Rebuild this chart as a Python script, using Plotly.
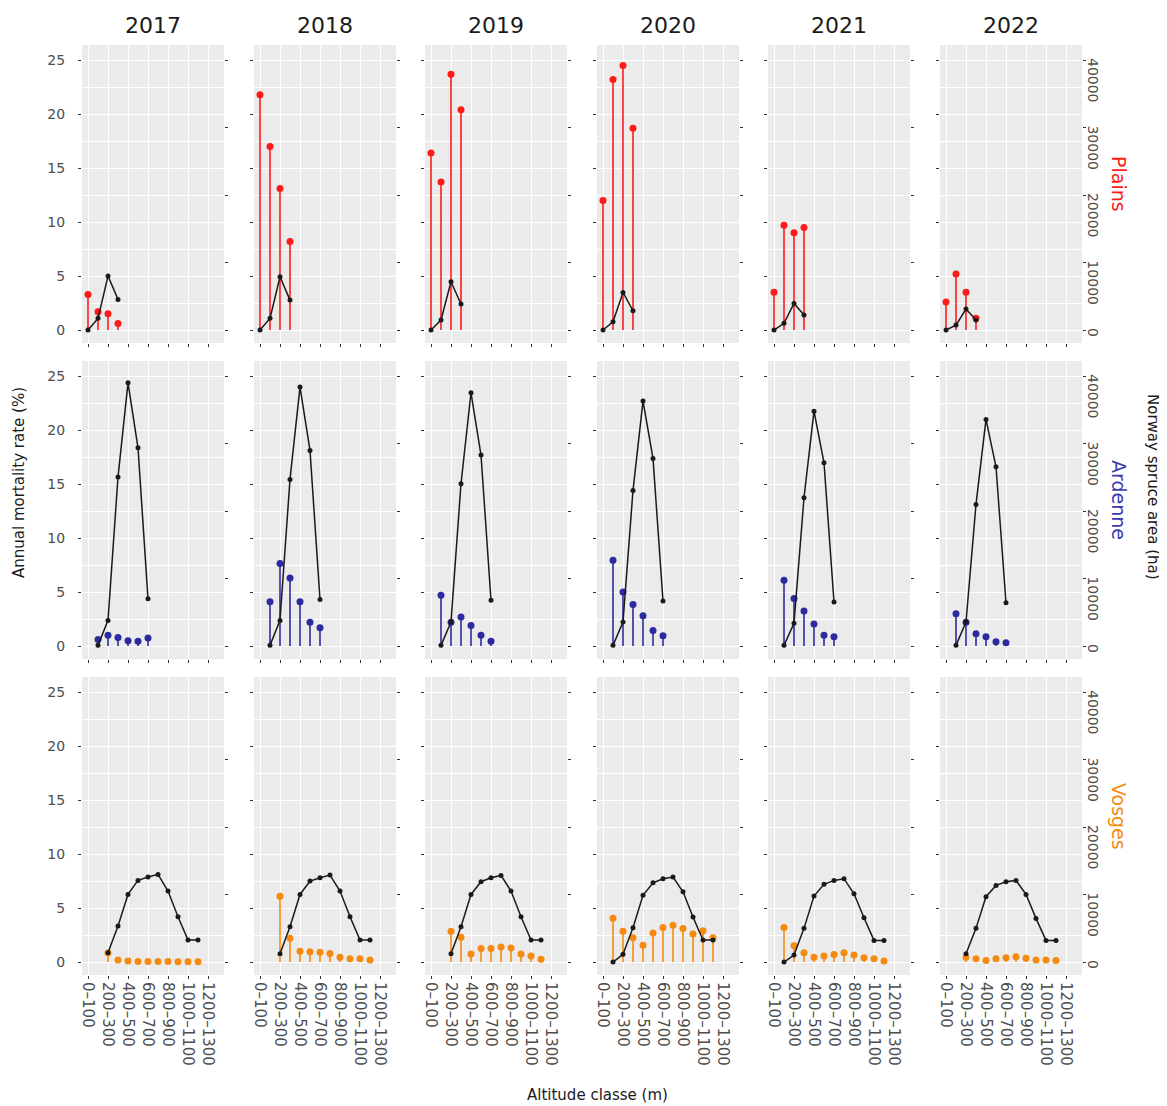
import plotly.graph_objects as go

# ---------------- data ----------------
years = ["2017", "2018", "2019", "2020", "2021", "2022"]
altitude_classes = ["0–100", "100–200", "200–300", "300–400", "400–500", "500–600",
                    "600–700", "700–800", "800–900", "900–1000", "1000–1100",
                    "1100–1200", "1200–1300", "1300–1400"]
tick_classes = altitude_classes[0:13:2]

regions = ["Plains", "Ardenne", "Vosges"]
region_colors = ["#FF1A1A", "#2B2B9F", "#F58A0F"]
region_text_colors = ["#FF1A1A", "#3A3AB0", "#F58A0F"]

plains_classes = altitude_classes[0:4]
plains_mortality = [
    [3.3, 1.7, 1.5, 0.6],
    [21.8, 17.0, 13.1, 8.2],
    [16.4, 13.7, 23.7, 20.4],
    [12.0, 23.2, 24.5, 18.7],
    [3.5, 9.7, 9.0, 9.5],
    [2.6, 5.2, 3.5, 1.1],
]
plains_area = [
    [0, 1730, 8000, 4540],
    [0, 1730, 7900, 4440],
    [0, 1480, 7160, 3850],
    [0, 1230, 5580, 2860],
    [0, 990, 3950, 2220],
    [0, 740, 3110, 1500],
]

ardenne_classes = altitude_classes[1:7]
ardenne_mortality = [
    [0.6, 1.0, 0.8, 0.5, 0.45, 0.75],
    [4.1, 7.65, 6.3, 4.1, 2.2, 1.7],
    [4.7, 2.2, 2.7, 1.9, 1.0, 0.45],
    [7.95, 5.0, 3.85, 2.8, 1.45, 0.95],
    [6.1, 4.4, 3.25, 2.05, 1.0, 0.85],
    [3.0, 2.2, 1.15, 0.85, 0.4, 0.3],
]
ardenne_area = [
    [100, 3800, 25040, 39010, 29380, 7010],
    [100, 3800, 24690, 38370, 28990, 6910],
    [100, 3560, 24050, 37530, 28300, 6770],
    [100, 3560, 23060, 36300, 27800, 6670],
    [100, 3360, 21980, 34810, 27160, 6520],
    [100, 3560, 20990, 33580, 26570, 6420],
]

vosges_classes = altitude_classes[1:12]
vosges_mortality = [
    [None, 0.85, 0.2, 0.1, 0.05, 0.05, 0.05, 0.05, 0.03, 0.03, 0.03],
    [None, 6.1, 2.2, 1.0, 0.95, 0.9, 0.8, 0.45, 0.3, 0.3, 0.2],
    [None, 2.85, 2.3, 0.75, 1.25, 1.25, 1.4, 1.3, 0.75, 0.55, 0.25],
    [4.05, 2.85, 2.25, 1.55, 2.7, 3.2, 3.4, 3.1, 2.6, 2.9, 2.25],
    [3.2, 1.5, 0.85, 0.45, 0.55, 0.7, 0.85, 0.65, 0.4, 0.3, 0.1],
    [None, 0.45, 0.3, 0.15, 0.3, 0.4, 0.5, 0.35, 0.2, 0.2, 0.15],
]
vosges_area = [
    [None, 1380, 5330, 10020, 12100, 12590, 12990, 10520, 6720, 3260, 3260],
    [None, 1230, 5230, 10020, 12000, 12490, 12890, 10520, 6720, 3260, 3260],
    [None, 1230, 5230, 10020, 11900, 12490, 12840, 10520, 6720, 3260, 3260],
    [0, 1140, 5080, 9880, 11750, 12350, 12590, 10420, 6670, 3260, 3260],
    [0, 1040, 4990, 9780, 11510, 12100, 12350, 10120, 6570, 3210, 3210],
    [None, 1230, 4990, 9680, 11360, 11900, 12100, 10020, 6470, 3210, 3210],
]

mortality_ticks = [0, 5, 10, 15, 20, 25]
area_ticks = [0, 10000, 20000, 30000, 40000]
area_tick_labels = ["0", "10000", "20000", "30000", "40000"]
area_per_pct = 1600  # secondary axis scale (40000 ha <-> 25 %)

region_classes = [plains_classes, ardenne_classes, vosges_classes]
region_mortality = [plains_mortality, ardenne_mortality, vosges_mortality]
region_area = [plains_area, ardenne_area, vosges_area]

# ---------------- layout geometry ----------------
OFF = 8                      # page body margin
W, H = 1167 - OFF, 1106 - OFF
col_left = [82, 254, 425, 597, 768, 940]
pw = 142
row_top = [45, 361, 677]
ph = 298
y_range = [-1.2, 26.4]
x_range = [-0.6, 13.6]


def px_x(v):
    return (v - OFF) / W


def px_y(v):
    return 1 - (v - OFF) / H


XTICKFONT = dict(family="DejaVu Sans", size=15, color="#4D4D4D")
YTICKFONT = dict(family="DejaVu Sans", size=14, color="#4D4D4D")

# right-axis labels read downward starting at their tick:
# pad each with no-break spaces (two per digit) so the digits begin at the tick
area_tick_text = ["\u00a0" * (2 * len(s)) + s for s in area_tick_labels]

fig = go.Figure()
layout = {}

for r in range(3):
    for c in range(6):
        n = r * 6 + c + 1
        n2 = 18 + n
        xref = "x" if n == 1 else f"x{n}"
        yref = "y" if n == 1 else f"y{n}"
        y2ref = f"y{n2}"
        col = region_colors[r]
        cls = region_classes[r]
        xs_all = [altitude_classes.index(k) for k in cls]
        mort = region_mortality[r][c]
        area = region_area[r][c]

        sx, sy, mx, my = [], [], [], []
        for xv, mv in zip(xs_all, mort):
            if mv is None:
                continue
            sx += [xv, xv, None]
            sy += [0, mv, None]
            mx.append(xv)
            my.append(mv)
        fig.add_trace(go.Scatter(x=sx, y=sy, mode="lines", xaxis=xref, yaxis=yref,
                                 line=dict(color=col, width=1.6), hoverinfo="skip",
                                 showlegend=False))
        fig.add_trace(go.Scatter(x=mx, y=my, mode="markers", xaxis=xref, yaxis=yref,
                                 marker=dict(color=col, size=7), showlegend=False))
        ax, ay = [], []
        for xv, av in zip(xs_all, area):
            if av is None:
                continue
            ax.append(xv)
            ay.append(av)
        fig.add_trace(go.Scatter(x=ax, y=ay, mode="lines+markers", xaxis=xref, yaxis=y2ref,
                                 line=dict(color="#1A1A1A", width=1.5),
                                 marker=dict(color="#1A1A1A", size=5), showlegend=False))

        l = col_left[c]
        t = row_top[r]
        xdom = [px_x(l), px_x(l + pw)]
        ydom = [px_y(t + ph), px_y(t)]
        layout[f"xaxis{n}"] = dict(
            domain=xdom, anchor=yref, range=x_range, automargin=False,
            tickmode="array", tickvals=[altitude_classes.index(k) for k in tick_classes],
            ticktext=tick_classes, showticklabels=(r == 2), tickangle=90,
            ticks="outside", ticklen=3, tickwidth=1, tickcolor="#333333",
            tickfont=XTICKFONT, showgrid=True, gridcolor="white", gridwidth=1.2,
            zeroline=False, showline=False,
        )
        layout[f"yaxis{n}"] = dict(
            domain=ydom, anchor=xref, range=y_range, automargin=False,
            tickmode="array", tickvals=mortality_ticks, showticklabels=(c == 0),
            ticks="outside", ticklen=3, tickwidth=1, tickcolor="#333333",
            tickfont=YTICKFONT, ticklabelstandoff=10,
            showgrid=True, gridcolor="white", gridwidth=1.2,
            minor=dict(tickmode="array", tickvals=[2.5, 7.5, 12.5, 17.5, 22.5],
                       showgrid=True, gridcolor="white", gridwidth=0.6, ticks=""),
            zeroline=False, showline=False,
        )
        layout[f"yaxis{n2}"] = dict(
            overlaying=yref, side="right", anchor=xref, automargin=False,
            range=[y_range[0] * area_per_pct, y_range[1] * area_per_pct],
            tickmode="array", tickvals=area_ticks, ticktext=area_tick_text,
            showticklabels=(c == 5), tickangle=90,
            ticks="outside", ticklen=3, tickwidth=1, tickcolor="#333333",
            tickfont=YTICKFONT, ticklabelstandoff=-4,
            showgrid=False, zeroline=False, showline=False,
        )

annotations = []
for c, yr in enumerate(years):
    annotations.append(dict(text=yr, x=px_x(col_left[c] + pw / 2), y=px_y(25),
                            xref="paper", yref="paper", showarrow=False,
                            font=dict(family="DejaVu Sans", size=22, color="#1A1A1A"),
                            xanchor="center", yanchor="middle"))
for r, reg in enumerate(regions):
    annotations.append(dict(text=reg, x=px_x(1119), y=px_y(row_top[r] + 139),
                            xref="paper", yref="paper", showarrow=False, textangle=90,
                            font=dict(family="DejaVu Sans", size=19, color=region_text_colors[r]),
                            xanchor="center", yanchor="middle"))
annotations.append(dict(text="Norway spruce area (ha)", x=px_x(1153), y=px_y(487),
                        xref="paper", yref="paper", showarrow=False, textangle=90,
                        font=dict(family="DejaVu Sans", size=15, color="#1A1A1A"),
                        xanchor="center", yanchor="middle"))
annotations.append(dict(text="Annual mortality rate (%)", x=px_x(19), y=px_y(483),
                        xref="paper", yref="paper", showarrow=False, textangle=-90,
                        font=dict(family="DejaVu Sans", size=15, color="#1A1A1A"),
                        xanchor="center", yanchor="middle"))
annotations.append(dict(text="Altitude classe (m)", x=px_x(597), y=px_y(1095),
                        xref="paper", yref="paper", showarrow=False,
                        font=dict(family="DejaVu Sans", size=15, color="#1A1A1A"),
                        xanchor="center", yanchor="middle"))

fig.update_layout(
    width=W, height=H, autosize=False,
    margin=dict(l=0, r=0, t=0, b=0, autoexpand=False),
    paper_bgcolor="white", plot_bgcolor="#EBEBEB",
    showlegend=False, annotations=annotations,
    **layout,
)
fig.write_html("out.html")
